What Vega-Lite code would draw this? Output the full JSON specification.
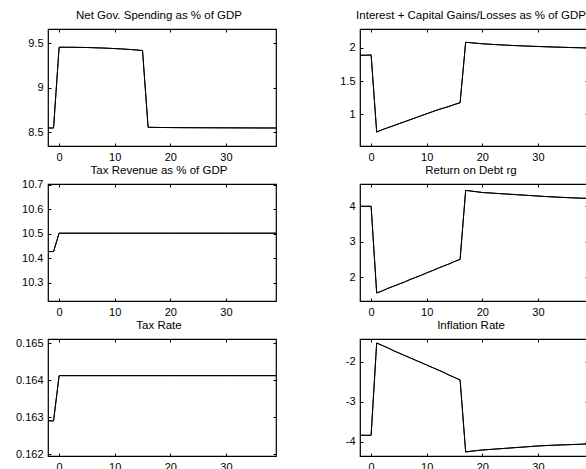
{
  "$schema": "https://vega.github.io/schema/vega-lite/v6.json",
  "padding": {"left": 14, "top": 9, "right": 0, "bottom": 5},
  "datasets": {
    "A": [
      {"t": -2, "v": 8.548}, {"t": -1, "v": 8.548}, {"t": 0, "v": 9.455}, {"t": 1, "v": 9.455}, {"t": 2, "v": 9.455}, {"t": 3, "v": 9.454}, {"t": 4, "v": 9.453}, {"t": 5, "v": 9.452}, {"t": 6, "v": 9.450}, {"t": 7, "v": 9.448}, {"t": 8, "v": 9.446}, {"t": 9, "v": 9.443}, {"t": 10, "v": 9.440}, {"t": 11, "v": 9.437}, {"t": 12, "v": 9.433}, {"t": 13, "v": 9.429}, {"t": 14, "v": 9.424}, {"t": 15, "v": 9.418},
      {"t": 16, "v": 8.556}, {"t": 17, "v": 8.555}, {"t": 18, "v": 8.554}, {"t": 20, "v": 8.553}, {"t": 22, "v": 8.552}, {"t": 25, "v": 8.551}, {"t": 30, "v": 8.550}, {"t": 35, "v": 8.549}, {"t": 39, "v": 8.548}
    ],
    "B": [
      {"t": -2, "v": 1.89}, {"t": -1, "v": 1.89}, {"t": 0, "v": 1.895}, {"t": 1, "v": 0.735}, {"t": 2, "v": 0.77}, {"t": 3, "v": 0.80}, {"t": 4, "v": 0.83}, {"t": 5, "v": 0.86}, {"t": 6, "v": 0.89}, {"t": 7, "v": 0.92}, {"t": 8, "v": 0.95}, {"t": 9, "v": 0.98}, {"t": 10, "v": 1.01}, {"t": 11, "v": 1.04}, {"t": 12, "v": 1.07}, {"t": 13, "v": 1.095}, {"t": 14, "v": 1.12}, {"t": 15, "v": 1.15}, {"t": 16, "v": 1.175},
      {"t": 17, "v": 2.085}, {"t": 18, "v": 2.078}, {"t": 19, "v": 2.07}, {"t": 20, "v": 2.063}, {"t": 22, "v": 2.052}, {"t": 24, "v": 2.043}, {"t": 26, "v": 2.035}, {"t": 28, "v": 2.028}, {"t": 30, "v": 2.022}, {"t": 32, "v": 2.016}, {"t": 34, "v": 2.011}, {"t": 36, "v": 2.006}, {"t": 38, "v": 2.002}, {"t": 39, "v": 2.0}
    ],
    "C": [
      {"t": -2, "v": 10.427}, {"t": -1, "v": 10.427}, {"t": 0, "v": 10.502}, {"t": 10, "v": 10.502}, {"t": 20, "v": 10.502}, {"t": 30, "v": 10.502}, {"t": 39, "v": 10.502}
    ],
    "D": [
      {"t": -2, "v": 4.0}, {"t": -1, "v": 4.0}, {"t": 0, "v": 4.0}, {"t": 1, "v": 1.55}, {"t": 2, "v": 1.61}, {"t": 3, "v": 1.68}, {"t": 4, "v": 1.74}, {"t": 5, "v": 1.80}, {"t": 6, "v": 1.86}, {"t": 7, "v": 1.93}, {"t": 8, "v": 1.99}, {"t": 9, "v": 2.05}, {"t": 10, "v": 2.12}, {"t": 11, "v": 2.18}, {"t": 12, "v": 2.25}, {"t": 13, "v": 2.31}, {"t": 14, "v": 2.37}, {"t": 15, "v": 2.44}, {"t": 16, "v": 2.5},
      {"t": 17, "v": 4.45}, {"t": 18, "v": 4.43}, {"t": 19, "v": 4.41}, {"t": 20, "v": 4.39}, {"t": 22, "v": 4.37}, {"t": 24, "v": 4.35}, {"t": 26, "v": 4.33}, {"t": 28, "v": 4.31}, {"t": 30, "v": 4.29}, {"t": 32, "v": 4.27}, {"t": 34, "v": 4.255}, {"t": 36, "v": 4.24}, {"t": 38, "v": 4.228}, {"t": 39, "v": 4.222}
    ],
    "E": [
      {"t": -2, "v": 0.1629}, {"t": -1, "v": 0.1629}, {"t": 0, "v": 0.16412}, {"t": 10, "v": 0.16412}, {"t": 20, "v": 0.16412}, {"t": 30, "v": 0.16412}, {"t": 39, "v": 0.16412}
    ],
    "F": [
      {"t": -2, "v": -3.833}, {"t": -1, "v": -3.833}, {"t": 0, "v": -3.833}, {"t": 1, "v": -1.53}, {"t": 2, "v": -1.59}, {"t": 3, "v": -1.65}, {"t": 4, "v": -1.72}, {"t": 5, "v": -1.78}, {"t": 6, "v": -1.84}, {"t": 7, "v": -1.90}, {"t": 8, "v": -1.96}, {"t": 9, "v": -2.02}, {"t": 10, "v": -2.08}, {"t": 11, "v": -2.14}, {"t": 12, "v": -2.20}, {"t": 13, "v": -2.26}, {"t": 14, "v": -2.33}, {"t": 15, "v": -2.39}, {"t": 16, "v": -2.45},
      {"t": 17, "v": -4.25}, {"t": 18, "v": -4.23}, {"t": 20, "v": -4.2}, {"t": 22, "v": -4.18}, {"t": 24, "v": -4.16}, {"t": 26, "v": -4.14}, {"t": 28, "v": -4.12}, {"t": 30, "v": -4.1}, {"t": 32, "v": -4.085}, {"t": 34, "v": -4.075}, {"t": 36, "v": -4.065}, {"t": 38, "v": -4.055}, {"t": 39, "v": -4.05}
    ]
  },
  "columns": 2,
  "spacing": {"row": 38, "column": 84},
  "bounds": "flush",
  "concat": [
    {
      "title": {"text": "Net Gov. Spending as % of GDP"},
      "width": 228, "height": 117,
      "data": {"name": "A"},
      "layer": [
        {"mark": "line", "encoding": {
          "x": {"field": "t", "type": "quantitative", "scale": {"domain": [-2, 39], "nice": false, "zero": false}, "axis": {"values": [0, 10, 20, 30], "title": null}},
          "y": {"field": "v", "type": "quantitative", "scale": {"domain": [8.346, 9.66], "nice": false, "zero": false}, "axis": {"values": [8.5, 9, 9.5], "title": null, "labelExpr": "'' + datum.value"}}}},
        {"mark": "line", "encoding": {
          "x": {"field": "t", "type": "quantitative", "axis": {"orient": "top", "values": [0, 10, 20, 30], "labels": false, "title": null}},
          "y": {"field": "v", "type": "quantitative", "axis": {"orient": "right", "values": [8.5, 9, 9.5], "labels": false, "title": null}}}}
      ],
      "resolve": {"axis": {"x": "independent", "y": "independent"}}
    },
    {
      "title": {"text": "Interest + Capital Gains/Losses as % of GDP"},
      "width": 228, "height": 117,
      "data": {"name": "B"},
      "layer": [
        {"mark": "line", "encoding": {
          "x": {"field": "t", "type": "quantitative", "scale": {"domain": [-2, 39], "nice": false, "zero": false}, "axis": {"values": [0, 10, 20, 30], "title": null}},
          "y": {"field": "v", "type": "quantitative", "scale": {"domain": [0.525, 2.285], "nice": false, "zero": false}, "axis": {"values": [1, 1.5, 2], "title": null, "labelExpr": "'' + datum.value"}}}},
        {"mark": "line", "encoding": {
          "x": {"field": "t", "type": "quantitative", "axis": {"orient": "top", "values": [0, 10, 20, 30], "labels": false, "title": null}},
          "y": {"field": "v", "type": "quantitative", "axis": {"orient": "right", "values": [1, 1.5, 2], "labels": false, "title": null}}}}
      ],
      "resolve": {"axis": {"x": "independent", "y": "independent"}}
    },
    {
      "title": {"text": "Tax Revenue as % of GDP", "offset": 2.2},
      "width": 228, "height": 117,
      "data": {"name": "C"},
      "layer": [
        {"mark": "line", "encoding": {
          "x": {"field": "t", "type": "quantitative", "scale": {"domain": [-2, 39], "nice": false, "zero": false}, "axis": {"values": [0, 10, 20, 30], "title": null}},
          "y": {"field": "v", "type": "quantitative", "scale": {"domain": [10.225, 10.703], "nice": false, "zero": false}, "axis": {"values": [10.3, 10.4, 10.5, 10.6, 10.7], "title": null, "labelExpr": "'' + datum.value"}}}},
        {"mark": "line", "encoding": {
          "x": {"field": "t", "type": "quantitative", "axis": {"orient": "top", "values": [0, 10, 20, 30], "labels": false, "title": null}},
          "y": {"field": "v", "type": "quantitative", "axis": {"orient": "right", "values": [10.3, 10.4, 10.5, 10.6, 10.7], "labels": false, "title": null}}}}
      ],
      "resolve": {"axis": {"x": "independent", "y": "independent"}}
    },
    {
      "title": {"text": "Return on Debt rg"},
      "width": 228, "height": 117,
      "data": {"name": "D"},
      "layer": [
        {"mark": "line", "encoding": {
          "x": {"field": "t", "type": "quantitative", "scale": {"domain": [-2, 39], "nice": false, "zero": false}, "axis": {"values": [0, 10, 20, 30], "title": null}},
          "y": {"field": "v", "type": "quantitative", "scale": {"domain": [1.324, 4.63], "nice": false, "zero": false}, "axis": {"values": [2, 3, 4], "title": null, "labelExpr": "'' + datum.value"}}}},
        {"mark": "line", "encoding": {
          "x": {"field": "t", "type": "quantitative", "axis": {"orient": "top", "values": [0, 10, 20, 30], "labels": false, "title": null}},
          "y": {"field": "v", "type": "quantitative", "axis": {"orient": "right", "values": [2, 3, 4], "labels": false, "title": null}}}}
      ],
      "resolve": {"axis": {"x": "independent", "y": "independent"}}
    },
    {
      "title": {"text": "Tax Rate", "offset": 5.6},
      "width": 228, "height": 117,
      "data": {"name": "E"},
      "layer": [
        {"mark": "line", "encoding": {
          "x": {"field": "t", "type": "quantitative", "scale": {"domain": [-2, 39], "nice": false, "zero": false}, "axis": {"values": [0, 10, 20, 30], "title": null}},
          "y": {"field": "v", "type": "quantitative", "scale": {"domain": [0.16195, 0.16511], "nice": false, "zero": false}, "axis": {"values": [0.162, 0.163, 0.164, 0.165], "title": null, "labelExpr": "'' + datum.value"}}}},
        {"mark": "line", "encoding": {
          "x": {"field": "t", "type": "quantitative", "axis": {"orient": "top", "values": [0, 10, 20, 30], "labels": false, "title": null}},
          "y": {"field": "v", "type": "quantitative", "axis": {"orient": "right", "values": [0.162, 0.163, 0.164, 0.165], "labels": false, "title": null}}}}
      ],
      "resolve": {"axis": {"x": "independent", "y": "independent"}}
    },
    {
      "title": {"text": "Inflation Rate"},
      "width": 228, "height": 117,
      "data": {"name": "F"},
      "layer": [
        {"mark": "line", "encoding": {
          "x": {"field": "t", "type": "quantitative", "scale": {"domain": [-2, 39], "nice": false, "zero": false}, "axis": {"values": [0, 10, 20, 30], "title": null}},
          "y": {"field": "v", "type": "quantitative", "scale": {"domain": [-4.35, -1.43], "nice": false, "zero": false}, "axis": {"values": [-4, -3, -2], "title": null, "labelExpr": "'' + datum.value"}}}},
        {"mark": "line", "encoding": {
          "x": {"field": "t", "type": "quantitative", "axis": {"orient": "top", "values": [0, 10, 20, 30], "labels": false, "title": null}},
          "y": {"field": "v", "type": "quantitative", "axis": {"orient": "right", "values": [-4, -3, -2], "labels": false, "title": null}}}}
      ],
      "resolve": {"axis": {"x": "independent", "y": "independent"}}
    }
  ],
  "config": {
    "background": "white",
    "font": "Liberation Sans",
    "view": {"stroke": "black", "strokeWidth": 1.2},
    "axis": {"domain": false, "grid": false, "tickColor": "black", "tickSize": -3, "tickWidth": 1, "labelPadding": 8, "labelFont": "Liberation Sans", "labelFontSize": 11, "labelColor": "black"},
    "title": {"font": "Liberation Sans", "fontSize": 11.5, "fontWeight": "normal", "color": "black", "offset": 7, "anchor": "middle", "frame": "group", "dx": -3},
    "line": {"color": "black", "strokeWidth": 1}
  }
}
